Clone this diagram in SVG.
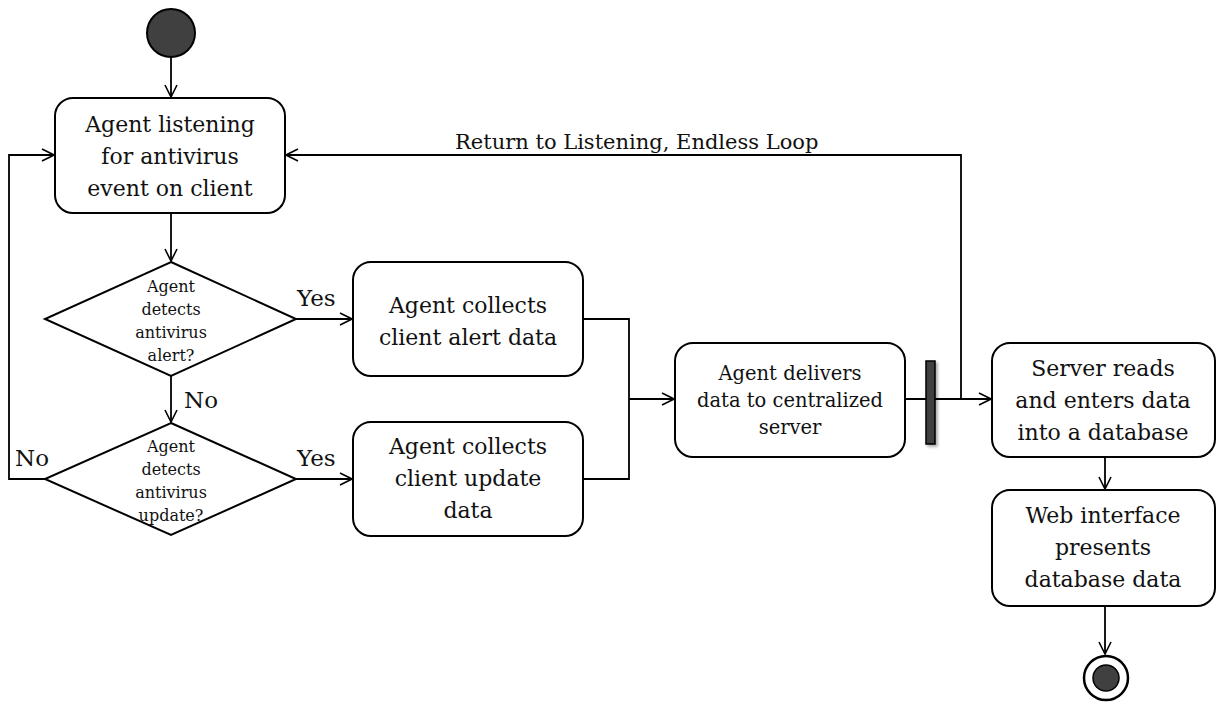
<svg xmlns="http://www.w3.org/2000/svg" width="1216" height="711" viewBox="0 0 1216 711">
<defs>
<marker id="arr" viewBox="0 0 14 14" refX="13" refY="7" markerWidth="14" markerHeight="14" markerUnits="userSpaceOnUse" orient="auto">
<path d="M1,1 L13,7 L1,13" fill="none" stroke="#000" stroke-width="1.6"/>
</marker>
<filter id="sh" x="-50%" y="-20%" width="200%" height="140%">
<feDropShadow dx="2" dy="2" stdDeviation="1.5" flood-color="#000" flood-opacity="0.35"/>
</filter>
</defs>
<style>
.box{fill:#fff;stroke:#000;stroke-width:2}
.dia{fill:#fff;stroke:#000;stroke-width:2}
.c{fill:none;stroke:#000;stroke-width:1.8}
.t{font-family:"DejaVu Serif","Liberation Serif",serif;fill:#111;text-anchor:middle}
.big{font-size:22px}
.mid{font-size:19.5px}
.sm{font-size:16px}
.lbl{font-family:"DejaVu Serif","Liberation Serif",serif;fill:#111;font-size:23px}
</style>
<g id="connectors">
<path class="c" d="M171,57 V97" marker-end="url(#arr)"/>
<path class="c" d="M171,213 V261" marker-end="url(#arr)"/>
<path class="c" d="M171,376 V422" marker-end="url(#arr)"/>
<path class="c" d="M296,319 H352" marker-end="url(#arr)"/>
<path class="c" d="M296,479 H352" marker-end="url(#arr)"/>
<path class="c" d="M45,479 H9 V155 H54" marker-end="url(#arr)"/>
<path class="c" d="M583,319 H629 V479 H583"/>
<path class="c" d="M629,399 H674" marker-end="url(#arr)"/>
<path class="c" d="M905,399 H991" marker-end="url(#arr)"/>
<path class="c" d="M961,399 V155 H286" marker-end="url(#arr)"/>
<path class="c" d="M1105,457 V489" marker-end="url(#arr)"/>
<path class="c" d="M1105,606 V654" marker-end="url(#arr)"/>
<text class="lbl" x="455" y="149" style="font-size:21px">Return to Listening, Endless Loop</text>
<text class="lbl" x="297" y="306">Yes</text>
<text class="lbl" x="297" y="466">Yes</text>
<text class="lbl" x="184" y="408">No</text>
<text class="lbl" x="15" y="466">No</text>
</g>
<g id="start">
<circle cx="171" cy="33" r="24" fill="#404040" stroke="#000" stroke-width="2"/>
</g>
<g id="listen">
<rect class="box" x="55" y="98" width="230" height="115" rx="18"/>
<text class="t big" x="170" y="132">Agent listening</text>
<text class="t big" x="170" y="164">for antivirus</text>
<text class="t big" x="170" y="196">event on client</text>
</g>
<g id="decAlert">
<polygon class="dia" points="171,262 296,319 171,376 45,319"/>
<text class="t sm" x="171" y="292">Agent</text>
<text class="t sm" x="171" y="315">detects</text>
<text class="t sm" x="171" y="338">antivirus</text>
<text class="t sm" x="171" y="361">alert?</text>
</g>
<g id="decUpdate">
<polygon class="dia" points="171,423 296,479 171,535 45,479"/>
<text class="t sm" x="171" y="452">Agent</text>
<text class="t sm" x="171" y="475">detects</text>
<text class="t sm" x="171" y="498">antivirus</text>
<text class="t sm" x="171" y="521">update?</text>
</g>
<g id="collectAlert">
<rect class="box" x="353" y="262" width="230" height="114" rx="18"/>
<text class="t big" x="468" y="313">Agent collects</text>
<text class="t big" x="468" y="345">client alert data</text>
</g>
<g id="collectUpdate">
<rect class="box" x="353" y="422" width="230" height="114" rx="18"/>
<text class="t big" x="468" y="454">Agent collects</text>
<text class="t big" x="468" y="486">client update</text>
<text class="t big" x="468" y="518">data</text>
</g>
<g id="deliver">
<rect class="box" x="675" y="343" width="230" height="114" rx="18"/>
<text class="t mid" x="790" y="380">Agent delivers</text>
<text class="t mid" x="790" y="407">data to centralized</text>
<text class="t mid" x="790" y="434">server</text>
</g>
<g id="fork">
<rect x="926" y="361" width="9" height="83" fill="#404040" stroke="#000" stroke-width="1.5" filter="url(#sh)"/>
</g>
<g id="serverReads">
<rect class="box" x="992" y="343" width="223" height="114" rx="18"/>
<text class="t big" x="1103" y="376">Server reads</text>
<text class="t big" x="1103" y="408">and enters data</text>
<text class="t big" x="1103" y="440">into a database</text>
</g>
<g id="webInterface">
<rect class="box" x="992" y="490" width="223" height="116" rx="18"/>
<text class="t big" x="1103" y="523">Web interface</text>
<text class="t big" x="1103" y="555">presents</text>
<text class="t big" x="1103" y="587">database data</text>
</g>
<g id="end">
<circle cx="1106" cy="678" r="22" fill="#fff" stroke="#000" stroke-width="2.5"/>
<circle cx="1106" cy="678" r="13" fill="#404040" stroke="#000" stroke-width="1.5"/>
</g>
</svg>
